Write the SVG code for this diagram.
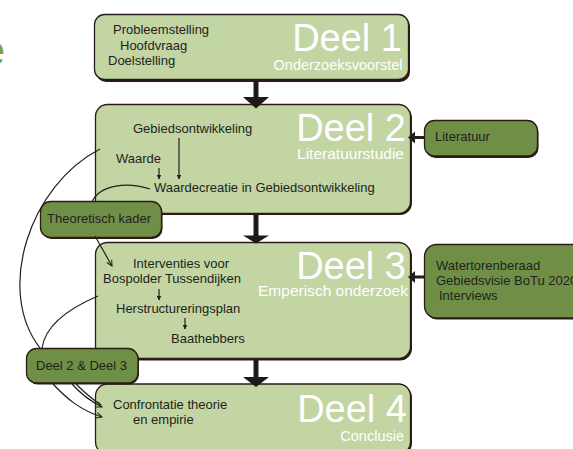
<svg xmlns="http://www.w3.org/2000/svg" width="573" height="449" viewBox="0 0 573 449">
<defs>
<style>
.lb{fill:#c2d5a3;stroke:#2b1c16;stroke-width:1.3}
.sh{fill:#2b1c16}
.db{fill:#6f8f47;stroke:#2b1c16;stroke-width:1.3}
.t{font-family:"Liberation Sans",Arial,sans-serif;font-size:13px;fill:#231f1c}
.big{font-family:"Liberation Sans",Arial,sans-serif;font-size:38px;fill:#ffffff;text-anchor:end}
.sub{font-family:"Liberation Sans",Arial,sans-serif;font-size:14.5px;fill:#ffffff;text-anchor:end}
.c{fill:none;stroke:#231f1c;stroke-width:1.2}
.ba{fill:#1c1a19}
</style>
<marker id="v" viewBox="0 0 10 10" refX="9" refY="5" markerWidth="7" markerHeight="7" orient="auto" markerUnits="userSpaceOnUse">
<path d="M1,1 L9,5 L1,9" fill="none" stroke="#231f1c" stroke-width="1.4"/>
</marker>
<marker id="s" viewBox="0 0 10 10" refX="9" refY="5" markerWidth="5" markerHeight="5" orient="auto" markerUnits="userSpaceOnUse">
<path d="M0,0 L10,5 L0,10 z" fill="#231f1c"/>
</marker>
</defs>
<rect width="573" height="449" fill="#ffffff"/>
<text x="5" y="65" font-family="Liberation Sans,Arial,sans-serif" font-size="42" fill="#7aa23f" text-anchor="end">e</text>

<g id="deel1">
<rect class="sh" x="96" y="16" width="314" height="66" rx="10"/>
<rect class="lb" x="94.5" y="14.5" width="314" height="65" rx="10"/>
<text class="t" x="113" y="34">Probleemstelling</text>
<text class="t" x="120" y="49.5">Hoofdvraag</text>
<text class="t" x="108" y="65">Doelstelling</text>
<text class="big" x="402" y="51">Deel 1</text>
<text class="sub" x="402.5" y="70">Onderzoeksvoorstel</text>
</g>

<g id="deel2">
<rect class="sh" x="97" y="106" width="315" height="109" rx="12"/>
<rect class="lb" x="95.5" y="104.5" width="315" height="109" rx="12"/>
<text class="t" x="133" y="133">Gebiedsontwikkeling</text>
<text class="t" x="116" y="162.5">Waarde</text>
<text class="t" x="154" y="192">Waardecreatie in Gebiedsontwikkeling</text>
<text class="big" x="406" y="141">Deel 2</text>
<text class="sub" x="404" y="158.5" textLength="107" lengthAdjust="spacingAndGlyphs">Literatuurstudie</text>
</g>

<g id="deel3">
<rect class="sh" x="97" y="244" width="315" height="116.5" rx="12"/>
<rect class="lb" x="95.5" y="242.5" width="315" height="116" rx="12"/>
<text class="t" x="133" y="268">Interventies voor</text>
<text class="t" x="103" y="283">Bospolder Tussendijken</text>
<text class="t" x="116" y="313">Herstructureringsplan</text>
<text class="t" x="171" y="343">Baathebbers</text>
<text class="big" x="406" y="279">Deel 3</text>
<text class="sub" x="408" y="296" textLength="150" lengthAdjust="spacingAndGlyphs">Emperisch onderzoek</text>
</g>

<g id="deel4">
<rect class="sh" x="97" y="385.5" width="315" height="70" rx="12"/>
<rect class="lb" x="95.5" y="384" width="315" height="70" rx="12"/>
<text class="t" x="113" y="409">Confrontatie theorie</text>
<text class="t" x="133" y="424">en empirie</text>
<text class="big" x="407" y="422">Deel 4</text>
<text class="sub" x="404" y="440.5">Conclusie</text>
</g>

<g id="literatuur">
<rect class="sh" x="425.5" y="122" width="113" height="36" rx="10"/>
<rect class="db" x="424.5" y="120.5" width="113" height="35.5" rx="10"/>
<text class="t" x="435" y="141">Literatuur</text>
</g>

<g id="bronnen">
<rect class="sh" x="425.5" y="245.5" width="160" height="74" rx="12"/>
<rect class="db" x="424.5" y="244.5" width="160" height="73.5" rx="12"/>
<text class="t" x="436" y="270">Watertorenberaad</text>
<text class="t" x="436" y="284.5">Gebiedsvisie BoTu 2020</text>
<text class="t" x="439" y="300">Interviews</text>
</g>

<g id="theoretisch-kader">
<rect class="sh" x="41.5" y="202.5" width="121" height="36.5" rx="10"/>
<rect class="db" x="40.5" y="201.5" width="121" height="36" rx="10"/>
<text class="t" x="47" y="222.5">Theoretisch kader</text>
</g>

<g id="deel2-deel3">
<rect class="sh" x="27.5" y="349.5" width="111.5" height="35" rx="10"/>
<rect class="db" x="26.5" y="348.5" width="111.5" height="34.5" rx="10"/>
<text class="t" x="36" y="369.5">Deel 2 &amp; Deel 3</text>
</g>

<g id="connectors">
<path class="ba" d="M253.5,81 h5 v16 h10.5 l-13,11.5 l-13,-11.5 h10.5 z"/>
<path class="ba" d="M253.5,215 h5 v20.5 h10.5 l-13,8 l-13,-8 h10.5 z"/>
<path class="ba" d="M253.5,360 h5 v17 h10.5 l-13,10 l-13,-10 h10.5 z"/>
<line x1="424" y1="137.5" x2="414" y2="137.5" stroke="#231f1c" stroke-width="3"/>
<path d="M408,137.5 L415,131.5 L415,143.5 z" fill="#231f1c"/>
<line x1="424" y1="277" x2="414" y2="277" stroke="#231f1c" stroke-width="3"/>
<path d="M408,277 L415,271 L415,283 z" fill="#231f1c"/>
<line class="c" x1="179" y1="138" x2="179" y2="179" marker-end="url(#s)" stroke-width="1"/>
<line class="c" x1="159" y1="168" x2="159" y2="179" marker-end="url(#s)" stroke-width="1"/>
<line class="c" x1="159" y1="289" x2="159" y2="300" marker-end="url(#s)" stroke-width="1"/>
<line class="c" x1="185" y1="318" x2="185" y2="329" marker-end="url(#s)" stroke-width="1"/>
<path class="c" d="M150,189 C128,182 100,184 92,202"/>
<path class="c" d="M95,236 L112,266" marker-end="url(#v)"/>
<path class="c" d="M100,149 C30,185 -5,290 40,348"/>
<path class="c" d="M98,296 C65,310 45,328 42,348"/>
<path class="c" d="M53,384 C66,398 80,410 102,417" marker-end="url(#v)"/>
<path class="c" d="M72,384 C80,393 90,401 102,407" marker-end="url(#v)"/>
<path class="c" d="M76,384 C84,392 92,399 101,405"/>
</g>
</svg>
